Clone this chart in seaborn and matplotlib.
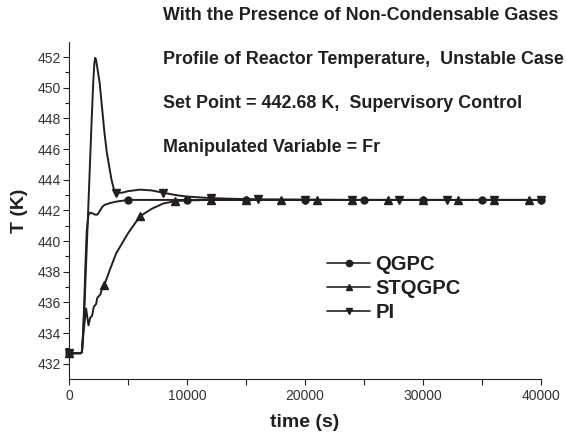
import numpy as np
import pandas as pd
import matplotlib
matplotlib.use("Agg")
import matplotlib.pyplot as plt
from matplotlib.lines import Line2D
import seaborn as sns

# ---------------- data ----------------
t_qgpc = [0, 1000, 1100, 1200, 1300, 1400, 1500, 1650, 1800, 2000, 2200, 2400,
          2600, 2800, 3000, 3500, 4000, 5000, 6000, 8000, 10000, 15000, 20000,
          25000, 30000, 35000, 40000]
T_qgpc = [432.68, 432.68, 432.75, 434.0, 436.2, 438.6, 440.6, 441.7, 441.85,
          441.8, 441.72, 441.72, 441.95, 442.2, 442.35, 442.48, 442.57, 442.68,
          442.68, 442.68, 442.68, 442.68, 442.68, 442.68, 442.68, 442.68, 442.68]
mk_qgpc = [0, 5000, 10000, 15000, 20000, 25000, 30000, 35000, 40000]

t_stq = [0, 1000, 1100, 1250, 1450, 1650, 1800, 1950, 2100, 2300, 2400, 2650,
         2800, 3000, 3500, 4000, 5000, 6000, 7000, 8000, 9000, 10000, 12000,
         15000, 18000, 21000, 24000, 27000, 30000, 33000, 36000, 39000, 40000]
T_stq = [432.68, 432.68, 432.8, 434.2, 435.6, 434.5, 435.0, 435.1, 435.7, 435.9,
         436.3, 436.5, 436.9, 437.15, 438.2, 439.2, 440.5, 441.6, 442.1, 442.45,
         442.6, 442.65, 442.68, 442.68, 442.68, 442.68, 442.68, 442.68, 442.68,
         442.68, 442.68, 442.68, 442.68]
mk_stq = [0, 3000, 6000, 9000, 12000, 15000, 18000, 21000, 24000, 27000, 30000,
          33000, 36000, 39000]

t_pi = [0, 1000, 1100, 1300, 1500, 1700, 1900, 2050, 2150, 2220, 2300, 2400,
        2600, 2800, 3000, 3200, 3400, 3600, 3800, 4000, 4500, 5000, 6000, 7000,
        8000, 9000, 10000, 12000, 14000, 16000, 20000, 24000, 28000, 32000,
        36000, 40000]
T_pi = [432.68, 432.68, 432.75, 435.5, 439.5, 443.5, 447.5, 450.3, 451.6, 451.95,
        451.8, 451.3, 450.3, 448.7, 447.1, 445.8, 444.9, 444.0, 443.4, 443.15,
        443.15, 443.25, 443.35, 443.3, 443.15, 443.0, 442.9, 442.8, 442.75,
        442.72, 442.7, 442.68, 442.68, 442.68, 442.68, 442.68]
mk_pi = [0, 4000, 8000, 12000, 16000, 20000, 24000, 28000, 32000, 36000, 40000]

labels = ["QGPC", "STQGPC", "PI"]
notes = ["With the Presence of Non-Condensable Gases",
         "Profile of Reactor Temperature,  Unstable Case",
         "Set Point = 442.68 K,  Supervisory Control",
         "Manipulated Variable = Fr"]
x_ticks = [0, 10000, 20000, 30000, 40000]
y_ticks = [432, 434, 436, 438, 440, 442, 444, 446, 448, 450, 452]

# ---------------- style ----------------
sns.set_style("ticks")
plt.rcParams["font.family"] = ["Liberation Sans", "DejaVu Sans"]
INK = "#231f20"

fig = plt.figure(figsize=(5.66, 4.32), dpi=100)
ax = fig.add_axes([69 / 566, 1 - 379 / 432, (541 - 69) / 566, (379 - 41.7) / 432])

series = [(t_qgpc, T_qgpc, mk_qgpc, "o", 5.0),
          (t_stq, T_stq, mk_stq, "^", 5.5),
          (t_pi, T_pi, mk_pi, "v", 5.5)]

handles = []
for (tt, TT, mk, m, ms), lab in zip(series, labels):
    df = pd.DataFrame({"t": tt, "T": TT})
    sns.lineplot(data=df, x="t", y="T", ax=ax, color=INK, lw=1.4,
                 estimator=None, sort=False, clip_on=False)
    dm = df[df["t"].isin(mk)]
    ax.plot(dm["t"], dm["T"], linestyle="none", marker=m, ms=ms,
            color=INK, mec=INK, clip_on=False, zorder=5)
    handles.append(Line2D([], [], color=INK, lw=1.2, marker=m, ms=ms - 0.5))

ax.set_xlim(0, 40000)
ax.set_ylim(431, 453)
ax.set_xticks(x_ticks)
ax.set_xticks(np.arange(5000, 40000, 10000), minor=True)
ax.set_yticks(y_ticks)
ax.set_yticks(np.arange(433, 453, 2), minor=True)
ax.set_xticklabels([str(v) for v in x_ticks])
ax.set_yticklabels([str(v) for v in y_ticks])

sns.despine(ax=ax)
for s in ("left", "bottom"):
    ax.spines[s].set_linewidth(0.8)
    ax.spines[s].set_color(INK)
ax.tick_params(axis="both", which="major", direction="out", length=4.3,
               width=0.8, color=INK, labelsize=10, labelcolor="#333333", pad=1.5)
ax.tick_params(axis="x", which="major", pad=3)
ax.tick_params(axis="both", which="minor", direction="out", length=2.6,
               width=0.8, color=INK)
ax.tick_params(axis="x", which="minor", length=4.0)

ax.set_xlabel("time (s)", fontsize=14, fontweight="bold", color=INK, labelpad=8)
ax.set_ylabel("T (K)", fontsize=14, fontweight="bold", color=INK, labelpad=7)

leg = ax.legend(handles, labels, loc="upper left",
                bbox_to_anchor=(327 / 566, 1 - 255 / 432),
                bbox_transform=fig.transFigure, frameon=False,
                prop={"weight": "bold", "size": 14.5}, handlelength=2.15,
                handletextpad=0.25, labelspacing=0.24, borderpad=0,
                borderaxespad=0)
for txt in leg.get_texts():
    txt.set_color(INK)

for note, yp in zip(notes, [16, 60, 103, 147]):
    fig.text(163 / 566, 1 - yp / 432, note, fontsize=12.9, fontweight="bold",
             color=INK, ha="left", va="center")

fig.savefig("out.png", dpi=100)
